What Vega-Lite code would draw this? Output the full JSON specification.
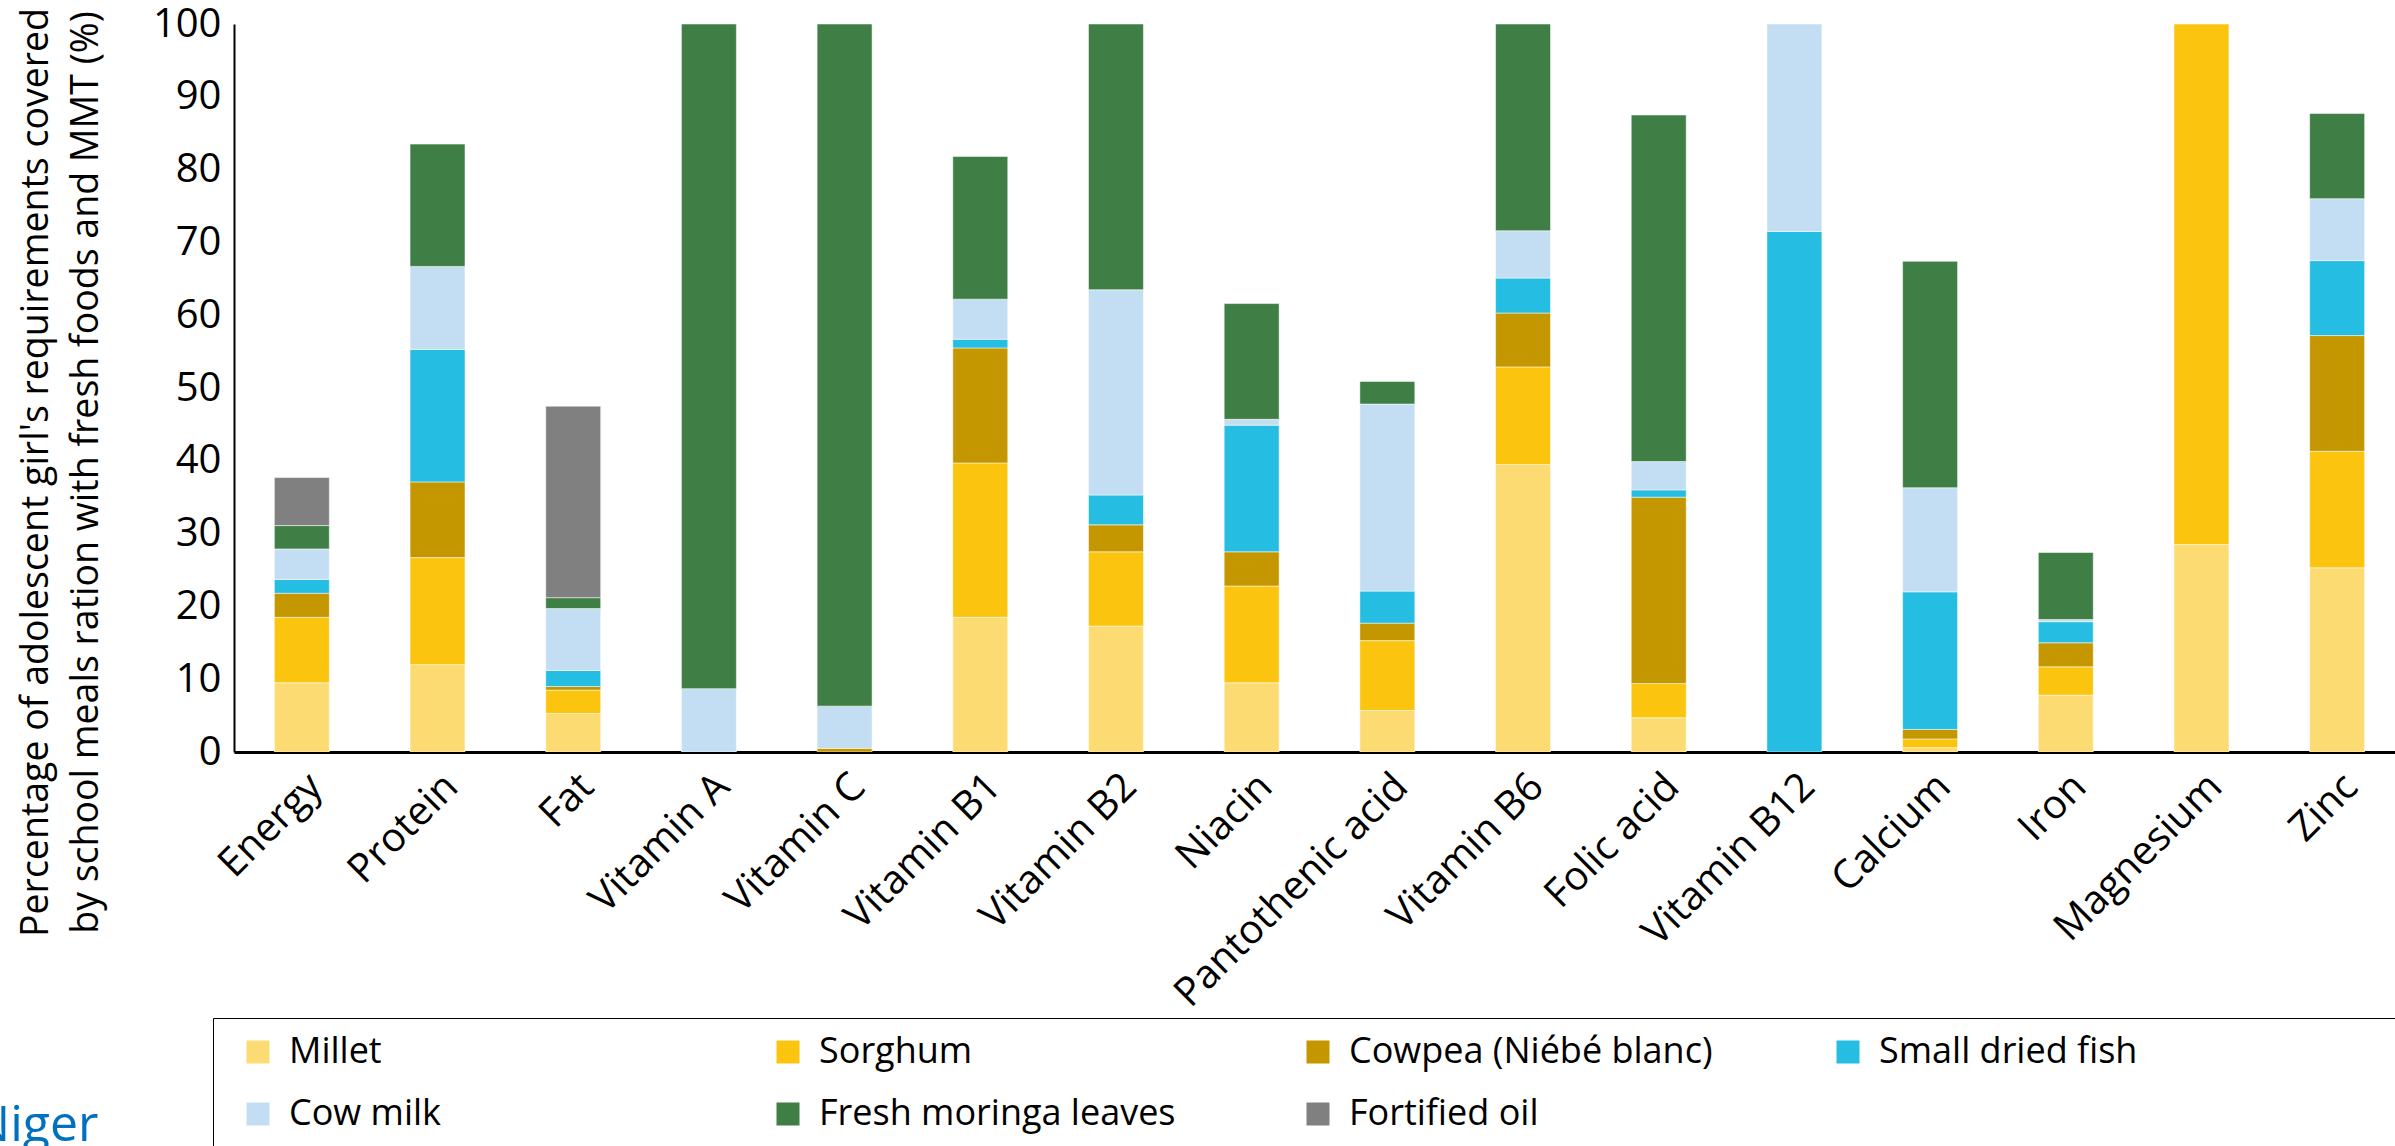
{
  "$schema": "https://vega.github.io/schema/vega-lite/v6.json",
  "width": 2171,
  "height": 728,
  "autosize": {"type": "none"},
  "padding": {"left": 234, "top": 24, "right": 0, "bottom": 394},
  "background": "white",
  "data": {"values": [
    {"n": "Energy", "food": "Millet", "v": 9.5},
    {"n": "Energy", "food": "Sorghum", "v": 9.0},
    {"n": "Energy", "food": "Cowpea (Niébé blanc)", "v": 3.3},
    {"n": "Energy", "food": "Small dried fish", "v": 1.9},
    {"n": "Energy", "food": "Cow milk", "v": 4.2},
    {"n": "Energy", "food": "Fresh moringa leaves", "v": 3.2},
    {"n": "Energy", "food": "Fortified oil", "v": 6.6},
    {"n": "Protein", "food": "Millet", "v": 12.0},
    {"n": "Protein", "food": "Sorghum", "v": 14.7},
    {"n": "Protein", "food": "Cowpea (Niébé blanc)", "v": 10.4},
    {"n": "Protein", "food": "Small dried fish", "v": 18.2},
    {"n": "Protein", "food": "Cow milk", "v": 11.4},
    {"n": "Protein", "food": "Fresh moringa leaves", "v": 16.8},
    {"n": "Fat", "food": "Millet", "v": 5.3},
    {"n": "Fat", "food": "Sorghum", "v": 3.2},
    {"n": "Fat", "food": "Cowpea (Niébé blanc)", "v": 0.5},
    {"n": "Fat", "food": "Small dried fish", "v": 2.2},
    {"n": "Fat", "food": "Cow milk", "v": 8.5},
    {"n": "Fat", "food": "Fresh moringa leaves", "v": 1.5},
    {"n": "Fat", "food": "Fortified oil", "v": 26.3},
    {"n": "Vitamin A", "food": "Cow milk", "v": 8.7},
    {"n": "Vitamin A", "food": "Fresh moringa leaves", "v": 91.3},
    {"n": "Vitamin C", "food": "Cowpea (Niébé blanc)", "v": 0.5},
    {"n": "Vitamin C", "food": "Cow milk", "v": 5.8},
    {"n": "Vitamin C", "food": "Fresh moringa leaves", "v": 93.7},
    {"n": "Vitamin B1", "food": "Millet", "v": 18.5},
    {"n": "Vitamin B1", "food": "Sorghum", "v": 21.2},
    {"n": "Vitamin B1", "food": "Cowpea (Niébé blanc)", "v": 15.8},
    {"n": "Vitamin B1", "food": "Small dried fish", "v": 1.2},
    {"n": "Vitamin B1", "food": "Cow milk", "v": 5.5},
    {"n": "Vitamin B1", "food": "Fresh moringa leaves", "v": 19.6},
    {"n": "Vitamin B2", "food": "Millet", "v": 17.3},
    {"n": "Vitamin B2", "food": "Sorghum", "v": 10.2},
    {"n": "Vitamin B2", "food": "Cowpea (Niébé blanc)", "v": 3.7},
    {"n": "Vitamin B2", "food": "Small dried fish", "v": 4.1},
    {"n": "Vitamin B2", "food": "Cow milk", "v": 28.2},
    {"n": "Vitamin B2", "food": "Fresh moringa leaves", "v": 36.5},
    {"n": "Niacin", "food": "Millet", "v": 9.5},
    {"n": "Niacin", "food": "Sorghum", "v": 13.3},
    {"n": "Niacin", "food": "Cowpea (Niébé blanc)", "v": 4.7},
    {"n": "Niacin", "food": "Small dried fish", "v": 17.4},
    {"n": "Niacin", "food": "Cow milk", "v": 0.8},
    {"n": "Niacin", "food": "Fresh moringa leaves", "v": 15.9},
    {"n": "Pantothenic acid", "food": "Millet", "v": 5.7},
    {"n": "Pantothenic acid", "food": "Sorghum", "v": 9.6},
    {"n": "Pantothenic acid", "food": "Cowpea (Niébé blanc)", "v": 2.4},
    {"n": "Pantothenic acid", "food": "Small dried fish", "v": 4.4},
    {"n": "Pantothenic acid", "food": "Cow milk", "v": 25.7},
    {"n": "Pantothenic acid", "food": "Fresh moringa leaves", "v": 3.1},
    {"n": "Vitamin B6", "food": "Millet", "v": 39.5},
    {"n": "Vitamin B6", "food": "Sorghum", "v": 13.4},
    {"n": "Vitamin B6", "food": "Cowpea (Niébé blanc)", "v": 7.4},
    {"n": "Vitamin B6", "food": "Small dried fish", "v": 4.8},
    {"n": "Vitamin B6", "food": "Cow milk", "v": 6.5},
    {"n": "Vitamin B6", "food": "Fresh moringa leaves", "v": 28.4},
    {"n": "Folic acid", "food": "Millet", "v": 4.7},
    {"n": "Folic acid", "food": "Sorghum", "v": 4.7},
    {"n": "Folic acid", "food": "Cowpea (Niébé blanc)", "v": 25.6},
    {"n": "Folic acid", "food": "Small dried fish", "v": 1.0},
    {"n": "Folic acid", "food": "Cow milk", "v": 3.9},
    {"n": "Folic acid", "food": "Fresh moringa leaves", "v": 47.6},
    {"n": "Vitamin B12", "food": "Small dried fish", "v": 71.5},
    {"n": "Vitamin B12", "food": "Cow milk", "v": 28.5},
    {"n": "Calcium", "food": "Millet", "v": 0.6},
    {"n": "Calcium", "food": "Sorghum", "v": 1.2},
    {"n": "Calcium", "food": "Cowpea (Niébé blanc)", "v": 1.3},
    {"n": "Calcium", "food": "Small dried fish", "v": 18.9},
    {"n": "Calcium", "food": "Cow milk", "v": 14.3},
    {"n": "Calcium", "food": "Fresh moringa leaves", "v": 31.1},
    {"n": "Iron", "food": "Millet", "v": 7.8},
    {"n": "Iron", "food": "Sorghum", "v": 3.9},
    {"n": "Iron", "food": "Cowpea (Niébé blanc)", "v": 3.3},
    {"n": "Iron", "food": "Small dried fish", "v": 2.9},
    {"n": "Iron", "food": "Cow milk", "v": 0.3},
    {"n": "Iron", "food": "Fresh moringa leaves", "v": 9.2},
    {"n": "Magnesium", "food": "Millet", "v": 28.5},
    {"n": "Magnesium", "food": "Sorghum", "v": 71.5},
    {"n": "Zinc", "food": "Millet", "v": 25.3},
    {"n": "Zinc", "food": "Sorghum", "v": 16.0},
    {"n": "Zinc", "food": "Cowpea (Niébé blanc)", "v": 15.9},
    {"n": "Zinc", "food": "Small dried fish", "v": 10.3},
    {"n": "Zinc", "food": "Cow milk", "v": 8.5},
    {"n": "Zinc", "food": "Fresh moringa leaves", "v": 11.7}
  ]},
  "transform": [
    {"calculate": "indexof(['Millet','Sorghum','Cowpea (Niébé blanc)','Small dried fish','Cow milk','Fresh moringa leaves','Fortified oil'], datum.food)", "as": "k"}
  ],
  "mark": {"type": "bar", "stroke": "white", "strokeWidth": 1, "strokeOpacity": 0.5, "clip": true},
  "encoding": {
    "x": {
      "field": "n", "type": "nominal", "sort": null,
      "scale": {"paddingInner": 0.595, "paddingOuter": 0.2975},
      "axis": {"labelAngle": -45, "labelFontSize": 40, "labelFont": "Open Sans", "labelColor": "black", "labelPadding": 14, "labelLimit": 800, "labelOverlap": false, "ticks": false, "tickSize": 0, "domainColor": "black", "domainWidth": 3,
        "title": "Niger", "titleFont": "Open Sans", "titleFontSize": 50, "titleFontWeight": "normal", "titleColor": "#0070C0",
        "titleX": -262, "titleY": 388, "titleAlign": "left", "titleBaseline": "alphabetic", "titleAngle": 0}
    },
    "y": {
      "field": "v", "type": "quantitative", "stack": "zero",
      "scale": {"domain": [0, 100], "nice": false},
      "axis": {
        "values": [0, 10, 20, 30, 40, 50, 60, 70, 80, 90, 100],
        "grid": false, "ticks": false, "tickSize": 0, "domainColor": "black", "domainWidth": 2,
        "labelFontSize": 40, "labelFont": "Open Sans", "labelColor": "black", "labelPadding": 13,
        "title": ["Percentage of adolescent girl's requirements covered", "by school meals ration with fresh foods and MMT (%)"],
        "titleFont": "Open Sans", "titleFontSize": 37.5, "titleFontWeight": "normal", "titleColor": "black",
        "titleX": -198, "titleY": 448, "titleAngle": -90, "titleBaseline": "middle", "titleAlign": "center", "titleLineHeight": 50
      }
    },
    "color": {
      "field": "food", "type": "nominal",
      "scale": {
        "domain": ["Millet", "Sorghum", "Cowpea (Niébé blanc)", "Small dried fish", "Cow milk", "Fresh moringa leaves", "Fortified oil"],
        "range": ["#FCDC72", "#FBC40E", "#C49600", "#26BDE2", "#C3DEF2", "#3F7F46", "#808080"]
      },
      "legend": {
        "orient": "none", "legendX": -21, "legendY": 994, "direction": "horizontal", "columns": 4, "gridAlign": "all",
        "columnPadding": 106, "rowPadding": 26, "padding": 16, "strokeColor": "black",
        "symbolType": "square", "symbolSize": 529, "symbolStrokeWidth": 0, "symbolOpacity": 1, "symbolOffset": 11,
        "labelOffset": 13, "labelFont": "Open Sans", "labelFontSize": 36, "labelColor": "black", "labelLimit": 800,
        "title": "\u00a0", "titleOrient": "right", "titleFontSize": 10, "titlePadding": 250
      }
    },
    "order": {"field": "k", "type": "quantitative"}
  },
  "config": {"view": {"stroke": null}}
}
